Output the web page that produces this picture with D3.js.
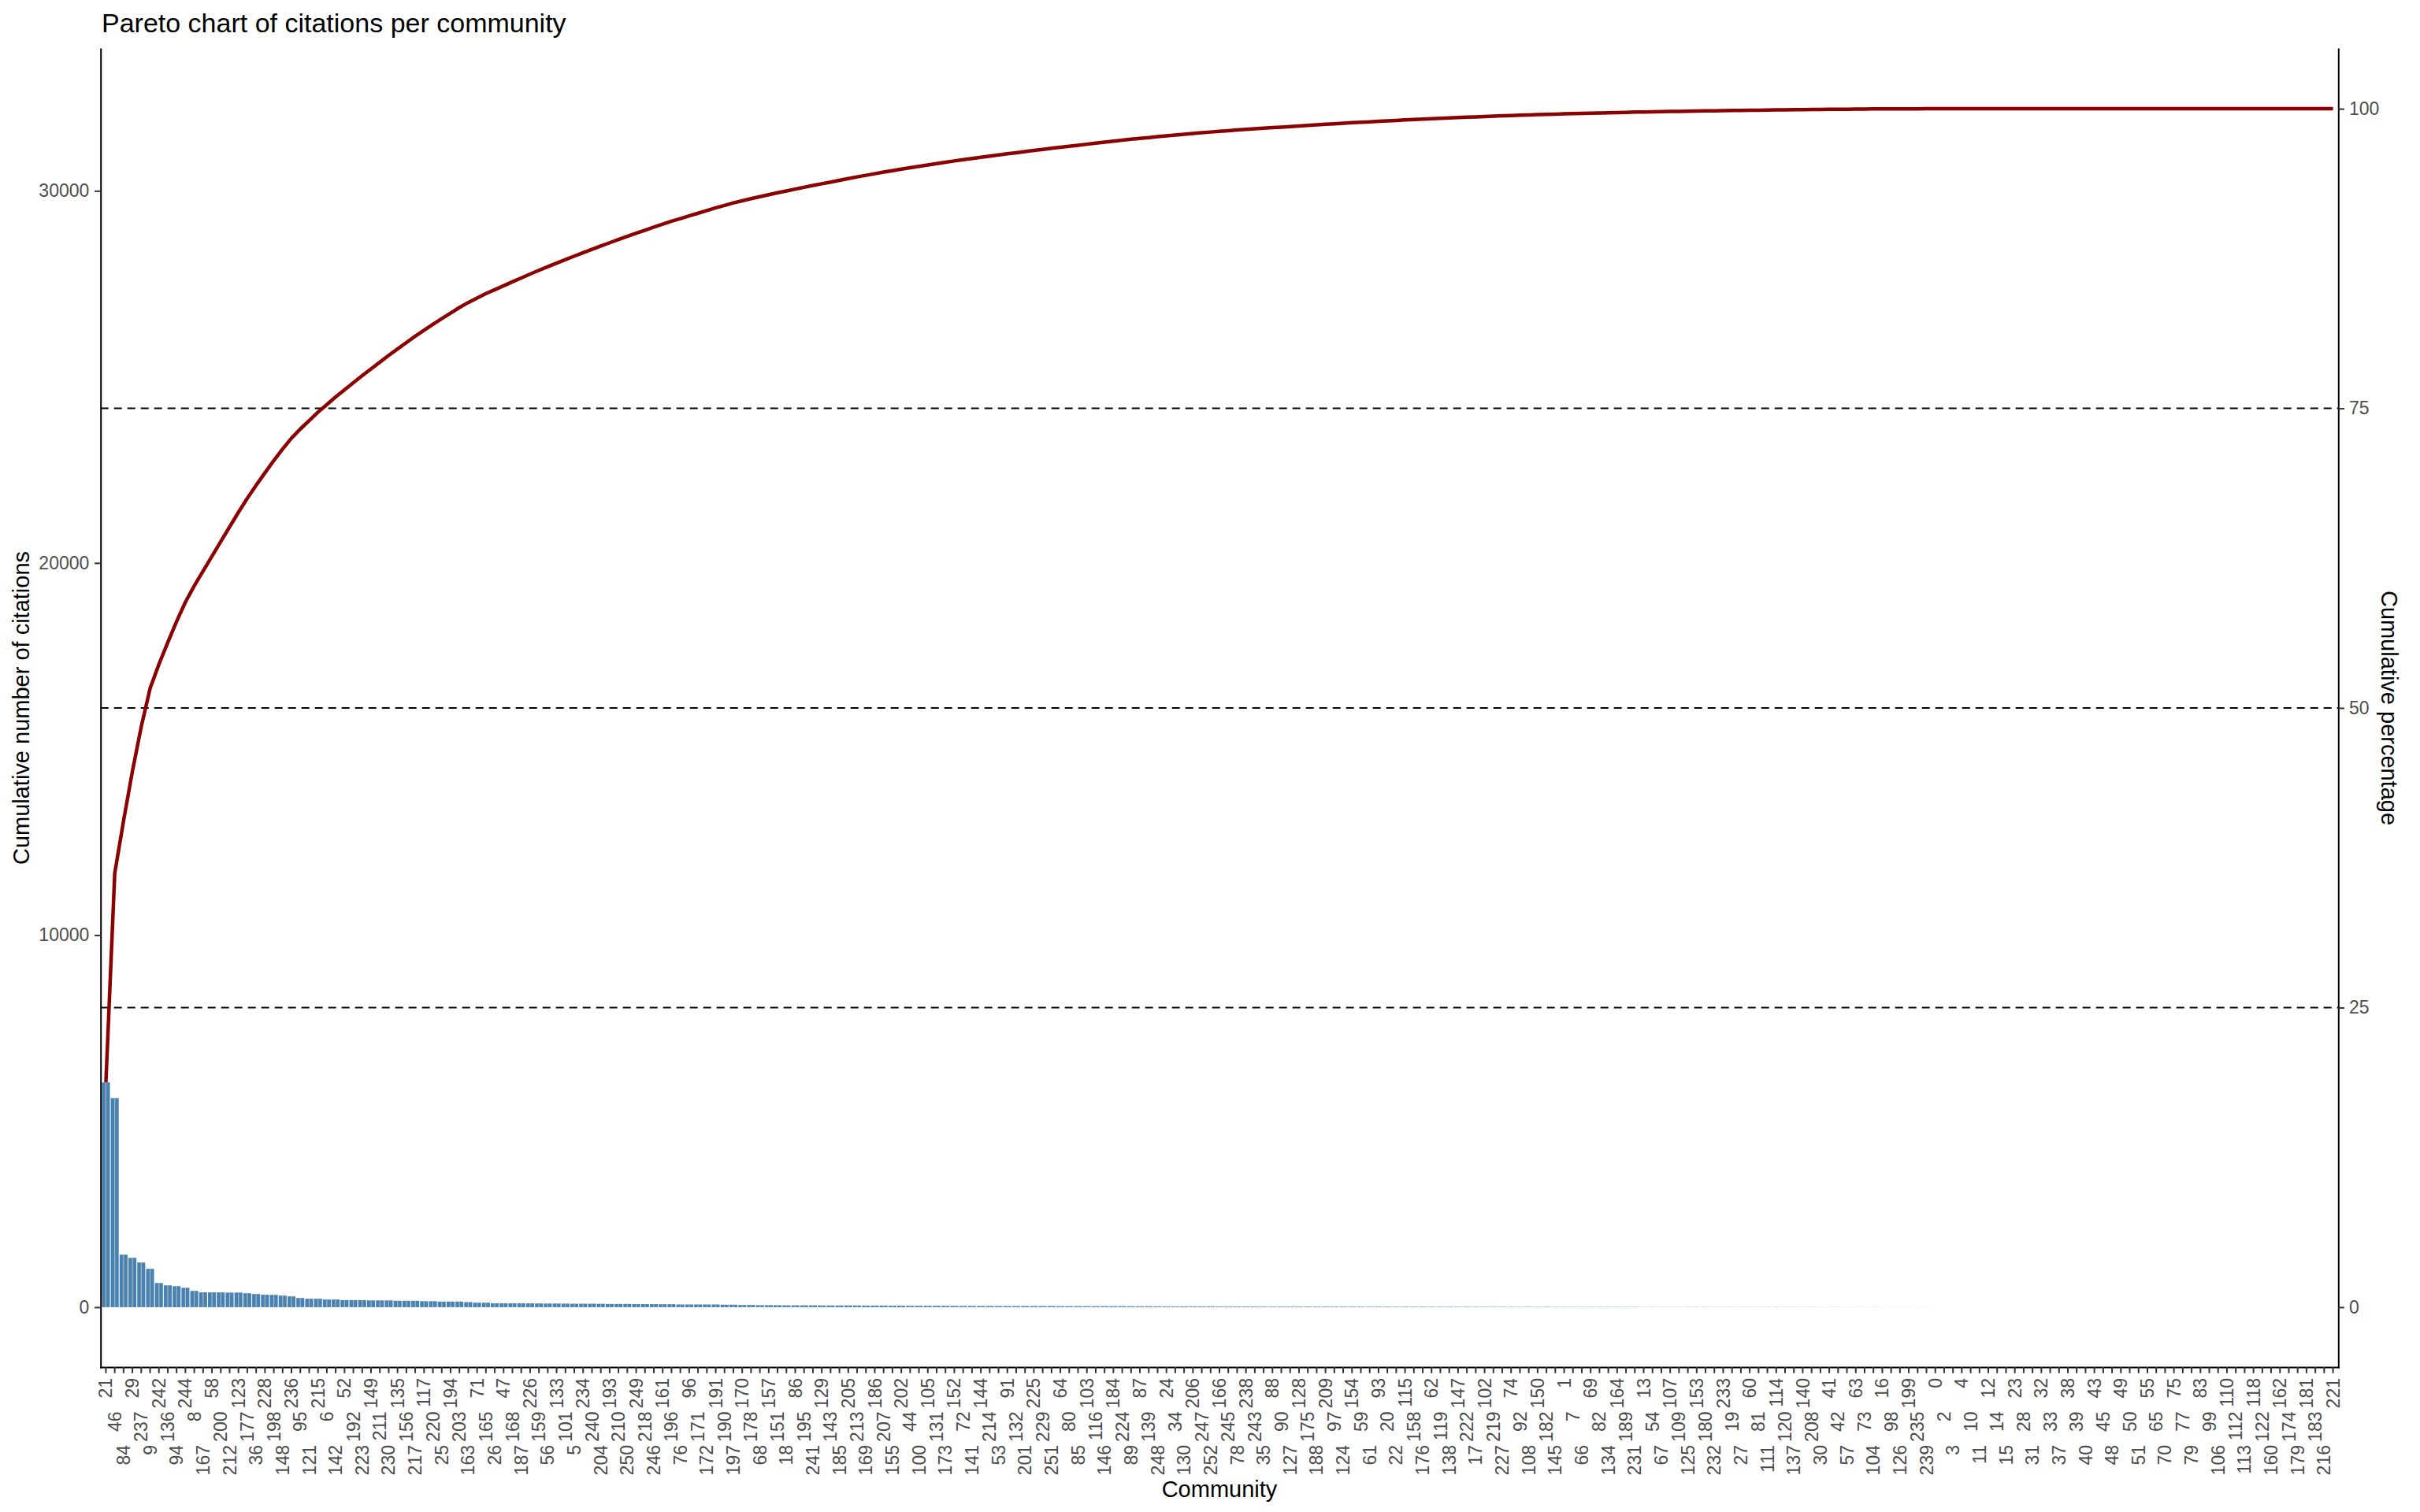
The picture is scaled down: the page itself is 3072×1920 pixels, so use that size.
<!DOCTYPE html>
<html>
<head>
<meta charset="utf-8">
<script src="https://cdn.jsdelivr.net/npm/d3@7"></script>
<style>
  body { margin: 0; background: #fff; }
  svg { display: block; }
</style>
</head>
<body>
<svg id="chart" width="3072" height="1920"></svg>
<script>
// community ids in the order of the bars (sorted by citations)
const communities = [
  21, 46, 84, 29, 237, 9, 242, 136, 94, 244,
  8, 167, 58, 200, 212, 123, 177, 36, 228, 198,
  148, 236, 95, 121, 215, 6, 142, 52, 192, 223,
  149, 211, 230, 135, 156, 217, 117, 220, 25, 194,
  203, 163, 71, 165, 26, 47, 168, 187, 226, 159,
  56, 133, 101, 5, 234, 240, 204, 193, 210, 250,
  249, 218, 246, 161, 196, 76, 96, 171, 172, 191,
  190, 197, 170, 178, 68, 157, 151, 18, 86, 195,
  241, 129, 143, 185, 205, 213, 169, 186, 207, 155,
  202, 44, 100, 105, 131, 173, 152, 72, 141, 144,
  214, 53, 91, 132, 201, 225, 229, 251, 64, 80,
  85, 103, 116, 146, 184, 224, 89, 87, 139, 248,
  24, 34, 130, 206, 247, 252, 166, 245, 78, 238,
  243, 35, 88, 90, 127, 128, 175, 188, 209, 97,
  124, 154, 59, 61, 93, 20, 22, 115, 158, 176,
  62, 119, 138, 147, 222, 17, 102, 219, 227, 74,
  92, 108, 150, 182, 145, 1, 7, 66, 69, 82,
  134, 164, 189, 231, 13, 54, 67, 107, 109, 125,
  153, 180, 232, 233, 19, 27, 60, 81, 111, 114,
  120, 137, 140, 208, 30, 41, 42, 57, 63, 73,
  104, 16, 98, 126, 199, 235, 239, 0, 2, 3,
  4, 10, 11, 12, 14, 15, 23, 28, 31, 32,
  33, 37, 38, 39, 40, 43, 45, 48, 49, 50,
  51, 55, 65, 70, 75, 77, 79, 83, 99, 106,
  110, 112, 113, 118, 122, 160, 162, 174, 179, 181,
  183, 216, 221
]

const citations = [
  6043, 5620, 1411, 1326, 1199, 1030, 649, 586, 564, 522,
  437, 397, 397, 397, 392, 392, 374, 353, 334, 330,
  311, 289, 247, 226, 226, 205, 205, 190, 190, 190,
  182, 182, 182, 172, 172, 172, 160, 160, 150, 150,
  150, 135, 120, 120, 105, 105, 105, 105, 105, 100,
  97, 97, 95, 92, 92, 92, 90, 86, 86, 86,
  84, 82, 82, 79, 79, 72, 72, 72, 72, 72,
  66, 66, 58, 58, 53, 53, 51, 49, 49, 49,
  49, 46, 46, 46, 46, 46, 43, 43, 43, 40,
  40, 37, 37, 37, 37, 37, 35, 33, 33, 33,
  33, 30, 30, 30, 30, 30, 30, 30, 27, 27,
  27, 27, 27, 27, 27, 27, 25, 23, 23, 23,
  21, 21, 21, 21, 21, 21, 18, 18, 17, 17,
  17, 15, 15, 15, 15, 15, 15, 15, 15, 14,
  14, 14, 13, 13, 13, 12, 12, 12, 12, 12,
  10, 10, 10, 10, 10, 9, 9, 9, 9, 8,
  8, 8, 8, 8, 7, 6, 6, 6, 6, 6,
  6, 6, 6, 6, 4, 4, 4, 4, 4, 4,
  4, 4, 4, 4, 3, 3, 3, 3, 3, 3,
  3, 3, 3, 3, 2, 2, 2, 2, 2, 2,
  2, 1, 1, 1, 1, 1, 1, 0, 0, 0,
  0, 0, 0, 0, 0, 0, 0, 0, 0, 0,
  0, 0, 0, 0, 0, 0, 0, 0, 0, 0,
  0, 0, 0, 0, 0, 0, 0, 0, 0, 0,
  0, 0, 0, 0, 0, 0, 0, 0, 0, 0,
  0, 0, 0
]

const leftTicks = [0, 10000, 20000, 30000]
const pctTicks = [0, 25, 50, 75, 100]
const refLines = [25, 50, 75]

const W = 3072, H = 1920
const m = { left: 127.7, right: 2968.3, top: 62, bottom: 1736 }
const font = "'Liberation Sans', Arial, Helvetica, sans-serif"
const tick = 7.7

var run = 0
var data = communities.map(function (c, i) {
  run += citations[i]
  return { id: String(c), n: citations[i], cum: run }
})
var total = run

var svg = d3.select("#chart")
svg.append("rect").attr("width", W).attr("height", H).attr("fill", "#fff")

var x = d3.scaleBand()
  .domain(data.map(d => d.id))
  .range([m.left, m.right])
  .paddingInner(0.1)
  .paddingOuter(0.15)

var y = d3.scaleLinear().domain([-0.05 * total, 1.05 * total]).range([m.bottom, m.top])
var yPct = d3.scaleLinear().domain([-5, 105]).range([m.bottom, m.top])
var cx = d => x(d.id) + x.bandwidth() / 2

// bars
svg.append("g").selectAll("rect").data(data).join("rect")
  .attr("x", d => x(d.id))
  .attr("width", x.bandwidth())
  .attr("y", d => y(d.n))
  .attr("height", d => y(0) - y(d.n))
  .attr("fill", "#4682B4")

svg.append("g").selectAll("line").data(data.filter(d => d.n > 0)).join("line")
  .attr("x1", cx).attr("x2", cx)
  .attr("y1", y(0)).attr("y2", d => y(d.n))
  .attr("stroke", "#b4b4b4")
  .attr("stroke-width", 1.2)

// 25 / 50 / 75 % lines
svg.append("g").selectAll("line").data(refLines).join("line")
  .attr("x1", m.left).attr("x2", m.right)
  .attr("y1", p => yPct(p)).attr("y2", p => yPct(p))
  .attr("stroke", "#000")
  .attr("stroke-width", 2)
  .attr("stroke-dasharray", "10,7")

// cumulative line
var line = d3.line().x(cx).y(d => y(d.cum))
svg.append("path").datum(data)
  .attr("d", line)
  .attr("fill", "none")
  .attr("stroke", "#8B0000")
  .attr("stroke-width", 4.5)
  .attr("stroke-linejoin", "round")

function styleAxis(g) {
  g.attr("font-family", font).attr("font-size", 23)
  g.select(".domain").attr("stroke", "#000").attr("stroke-width", 2).attr("stroke-linecap", "square")
  g.selectAll(".tick line").attr("stroke", "#333").attr("stroke-width", 2)
  g.selectAll(".tick text").attr("fill", "#4d4d4d")
}

var rows = [14, 56.5, 99]
var gx = svg.append("g")
  .attr("transform", "translate(0," + m.bottom + ")")
  .call(d3.axisBottom(x).tickSizeInner(tick).tickSizeOuter(0))
styleAxis(gx)
gx.selectAll(".tick text")
  .attr("y", null)
  .attr("x", null)
  .attr("dy", "0.35em")
  .attr("text-anchor", "end")
  .attr("transform", (d, i) => "translate(0," + rows[i % 3] + ") rotate(-90)")

var gy = svg.append("g")
  .attr("transform", "translate(" + m.left + ",0)")
  .call(d3.axisLeft(y).tickValues(leftTicks).tickFormat(d3.format("d"))
    .tickSizeInner(tick).tickSizeOuter(0).tickPadding(6.7))
styleAxis(gy)

var gr = svg.append("g")
  .attr("transform", "translate(" + m.right + ",0)")
  .call(d3.axisRight(yPct).tickValues(pctTicks).tickFormat(d3.format("d"))
    .tickSizeInner(tick).tickSizeOuter(0).tickPadding(6))
styleAxis(gr)

// titles
svg.append("text")
  .attr("x", 129).attr("y", 41)
  .attr("font-family", font).attr("font-size", 34)
  .text("Pareto chart of citations per community")

svg.append("text")
  .attr("x", (m.left + m.right) / 2).attr("y", 1891)
  .attr("dy", "0.35em")
  .attr("text-anchor", "middle")
  .attr("font-family", font).attr("font-size", 29)
  .text("Community")

svg.append("text")
  .attr("transform", "translate(27," + (m.top + m.bottom) / 2 + ") rotate(-90)")
  .attr("dy", "0.35em")
  .attr("text-anchor", "middle")
  .attr("font-family", font).attr("font-size", 29)
  .text("Cumulative number of citations")

svg.append("text")
  .attr("transform", "translate(3033," + (m.top + m.bottom) / 2 + ") rotate(90)")
  .attr("dy", "0.35em")
  .attr("text-anchor", "middle")
  .attr("font-family", font).attr("font-size", 29)
  .text("Cumulative percentage")
</script>
</body>
</html>
